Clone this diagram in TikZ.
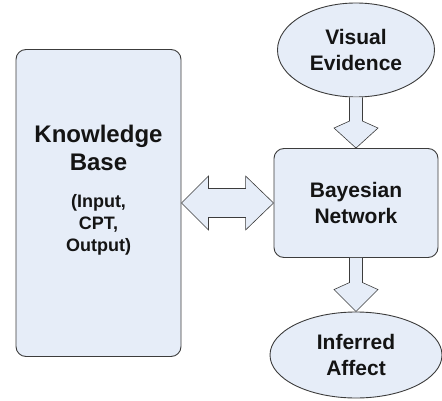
\documentclass[tikz,border=0pt]{standalone}
\usepackage{fontspec}
\setmainfont{Liberation Sans}
\usetikzlibrary{calc,shapes.geometric}
\definecolor{boxfill}{RGB}{230,237,248}
\definecolor{boxline}{RGB}{60,60,60}
\definecolor{txt}{RGB}{20,20,20}

\begin{document}
\begin{tikzpicture}[x=1pt,y=-1pt,
  box/.style={draw=boxline,line width=0.9pt,fill=boxfill,rounded corners=10pt,inner sep=0pt},
  oval/.style={draw=boxline,line width=0.9pt,fill=boxfill,ellipse,inner sep=0pt},
  lbl/.style={align=center,text=txt,font=\bfseries\fontsize{21}{26}\selectfont},
  blockarr/.style={draw=boxline,line width=0.6pt,fill=boxfill,line join=miter}]
\useasboundingbox (0,0) rectangle (442,401);
\node[box,minimum width=165pt,minimum height=307pt] (kb) at (98.5,203) {};
\node[lbl,font=\bfseries\fontsize{24}{28}\selectfont] (kbtitle) at (98.5,148) {Knowledge\\Base};
\node[lbl,font=\bfseries\fontsize{18}{22}\selectfont] (kbsub) at (98.5,225) {(Input,\\CPT,\\Output)};
\node[box,minimum width=164pt,minimum height=109pt,lbl] (bn) at (356,203) {Bayesian\\Network};
\node[oval,minimum width=157pt,minimum height=94pt,lbl] (ve) at (356,50) {Visual\\Evidence};
\node[oval,minimum width=172pt,minimum height=86pt,lbl] (ia) at (356,355) {Inferred\\Affect};
\draw[blockarr] ($(ve.south)+(-6.5,0)$) -- ($(bn.north)+(-6.5,-27)$) -- ($(bn.north)+(-22,-20)$) -- (bn.north) -- ($(bn.north)+(22,-20)$) -- ($(bn.north)+(6.5,-27)$) -- ($(ve.south)+(6.5,0)$);
\draw[blockarr] ($(bn.south)+(-6.5,0)$) -- ($(ia.north)+(-6.5,-29)$) -- ($(ia.north)+(-22,-22)$) -- (ia.north) -- ($(ia.north)+(22,-22)$) -- ($(ia.north)+(6.5,-29)$) -- ($(bn.south)+(6.5,0)$);
\draw[blockarr] (kb.east) -- ($(kb.east)+(27,-27)$) -- ($(kb.east)+(27,-14.5)$) -- ($(bn.west)+(-28,-14.5)$) -- ($(bn.west)+(-28,-27)$) -- (bn.west) -- ($(bn.west)+(-28,27)$) -- ($(bn.west)+(-28,14.5)$) -- ($(kb.east)+(27,14.5)$) -- ($(kb.east)+(27,27)$) -- cycle;
\end{tikzpicture}
\end{document}
